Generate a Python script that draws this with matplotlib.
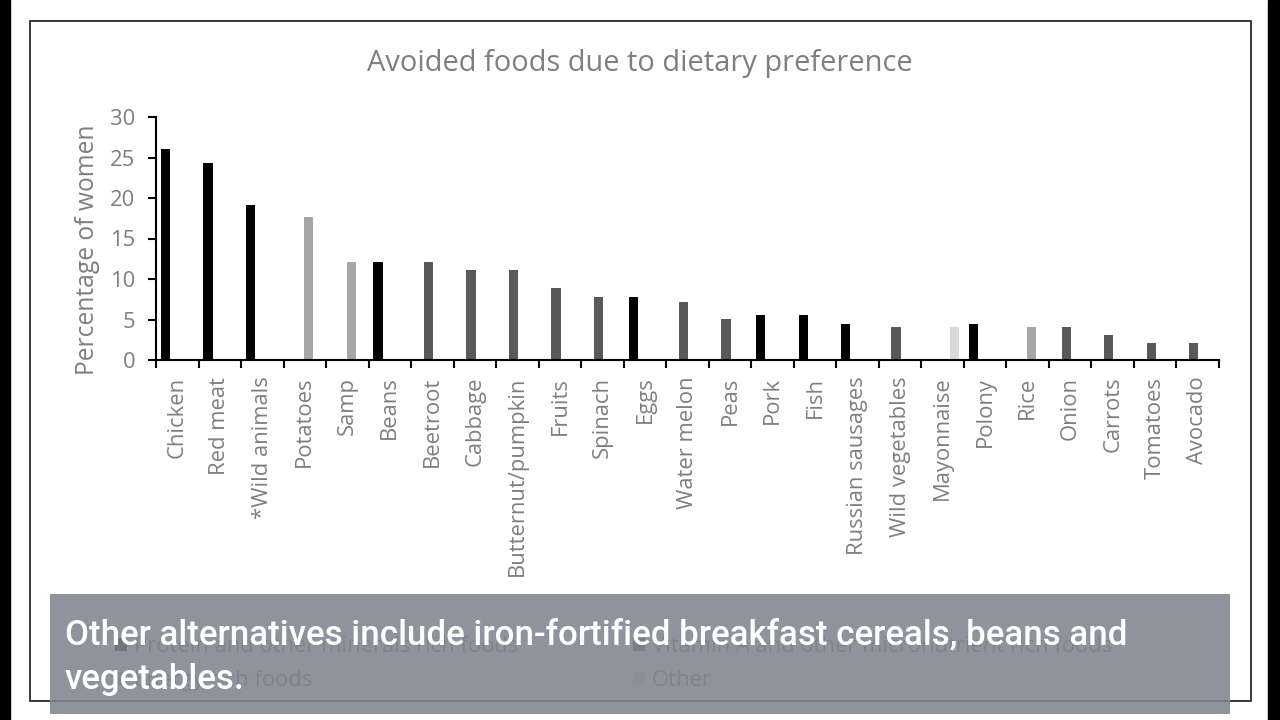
import numpy as np
import matplotlib.pyplot as plt
from matplotlib.patches import Rectangle

categories = ['Chicken', 'Red meat', '*Wild animals', 'Potatoes', 'Samp', 'Beans',
              'Beetroot', 'Cabbage', 'Butternut/pumpkin', 'Fruits', 'Spinach', 'Eggs',
              'Water melon', 'Peas', 'Pork', 'Fish', 'Russian sausages', 'Wild vegetables',
              'Mayonnaise', 'Polony', 'Rice', 'Onion', 'Carrots', 'Tomatoes', 'Avocado']
values = [26.1, 24.3, 19.1, 17.7, 12.1, 12.1, 12.1, 11.1, 11.1, 8.9, 7.8, 7.8, 7.1,
          5.1, 5.6, 5.6, 4.5, 4.1, 4.1, 4.5, 4.1, 4.1, 3.1, 2.1, 2.1]
groups = ['P', 'P', 'P', 'E', 'E', 'P', 'V', 'V', 'V', 'V', 'V', 'P', 'V',
          'V', 'P', 'P', 'P', 'V', 'O', 'P', 'E', 'V', 'V', 'V', 'V']

series_keys = ['P', 'V', 'E', 'O']
series_names = ['Protein and other minerals rich foods',
                'Vitamin A and other micronutrient rich foods',
                'Energy rich foods', 'Other']
series_colors = ['#000000', '#595959', '#a6a6a6', '#d9d9d9']

caption = ['Other alternatives include iron-fortified breakfast cereals, beans and',
           'vegetables.']

TXT = '#7f7f7f'
W, H = 1280, 720

plt.rcParams['font.family'] = ['Open Sans', 'DejaVu Sans']

fig = plt.figure(figsize=(12.8, 7.2), dpi=100)
ax = fig.add_axes([156 / W, 1 - 360 / H, (1219 - 156) / W, (360 - 117) / H])

x = np.arange(len(categories))
vals = np.array(values)
grp = np.array(groups)
handles = []
for k, (key, name, col) in enumerate(zip(series_keys, series_names, series_colors)):
    m = grp == key
    # excel clustered columns: each series keeps its own slot in the cluster
    b = ax.bar(x[m] + (k - 1.5) * 0.185, vals[m], width=0.22, color=col, label=name)
    handles.append(b)

ax.set_xlim(-0.5, len(categories) - 0.5)
ax.set_ylim(0, 30)
ax.set_yticks(np.arange(0, 31, 5))
ax.set_xticks(np.arange(-0.5, len(categories)), labels=[])
ax.set_xticks(x, labels=categories, minor=True, rotation=90)
ax.tick_params(axis='x', which='major', length=6, width=1.5, color='black', direction='out')
ax.tick_params(axis='x', which='minor', length=0, pad=12, labelsize=15.8, labelcolor=TXT)
ax.tick_params(axis='y', length=6, width=1.5, color='black', pad=9, labelsize=15.8, labelcolor=TXT)

for s in ['top', 'right']:
    ax.spines[s].set_visible(False)
for s in ['left', 'bottom']:
    ax.spines[s].set_linewidth(1.5)

ax.set_ylabel('Percentage of women', fontsize=17.7, color=TXT)
ax.yaxis.set_label_coords(-0.053, 0.453)

fig.text(0.5, 1 - 64 / H, 'Avoided foods due to dietary preference',
         ha='center', va='center', fontsize=20.9, color=TXT)

# legend (mostly hidden under the caption bar)
order = [0, 2, 1, 3]
fig.legend([handles[i] for i in order], [series_names[i] for i in order],
           ncol=2, loc='upper left', bbox_to_anchor=(115 / W, 1 - 636 / H),
           frameon=False, fontsize=15.8, labelcolor=TXT, handlelength=0.55,
           handleheight=0.55, handletextpad=0.32, columnspacing=5.2,
           labelspacing=0.6, borderpad=0, borderaxespad=0)

# chart frame and video letterbox
fig.patches.append(Rectangle((30 / W, 1 - 701 / H), 1221 / W, 680 / H, transform=fig.transFigure,
                             fill=False, edgecolor='#1a1a1a', linewidth=1.2, zorder=2))
fig.patches.append(Rectangle((0, 0), 10 / W, 1, transform=fig.transFigure,
                             color='black', zorder=2))
fig.patches.append(Rectangle((1268 / W, 0), 12 / W, 1, transform=fig.transFigure,
                             color='black', zorder=2))

# caption bar
fig.patches.append(Rectangle((50 / W, 1 - 714 / H), 1180 / W, 120 / H, transform=fig.transFigure,
                             facecolor='#80858e', alpha=0.88, edgecolor='none', zorder=10))
for line, yb in zip(caption, [644, 689]):
    fig.text(65 / W, 1 - yb / H, line, fontsize=25.1, color='white', fontweight='medium',
             family=['Roboto', 'DejaVu Sans'], va='baseline', zorder=11)

fig.savefig('out.png', dpi=100)
